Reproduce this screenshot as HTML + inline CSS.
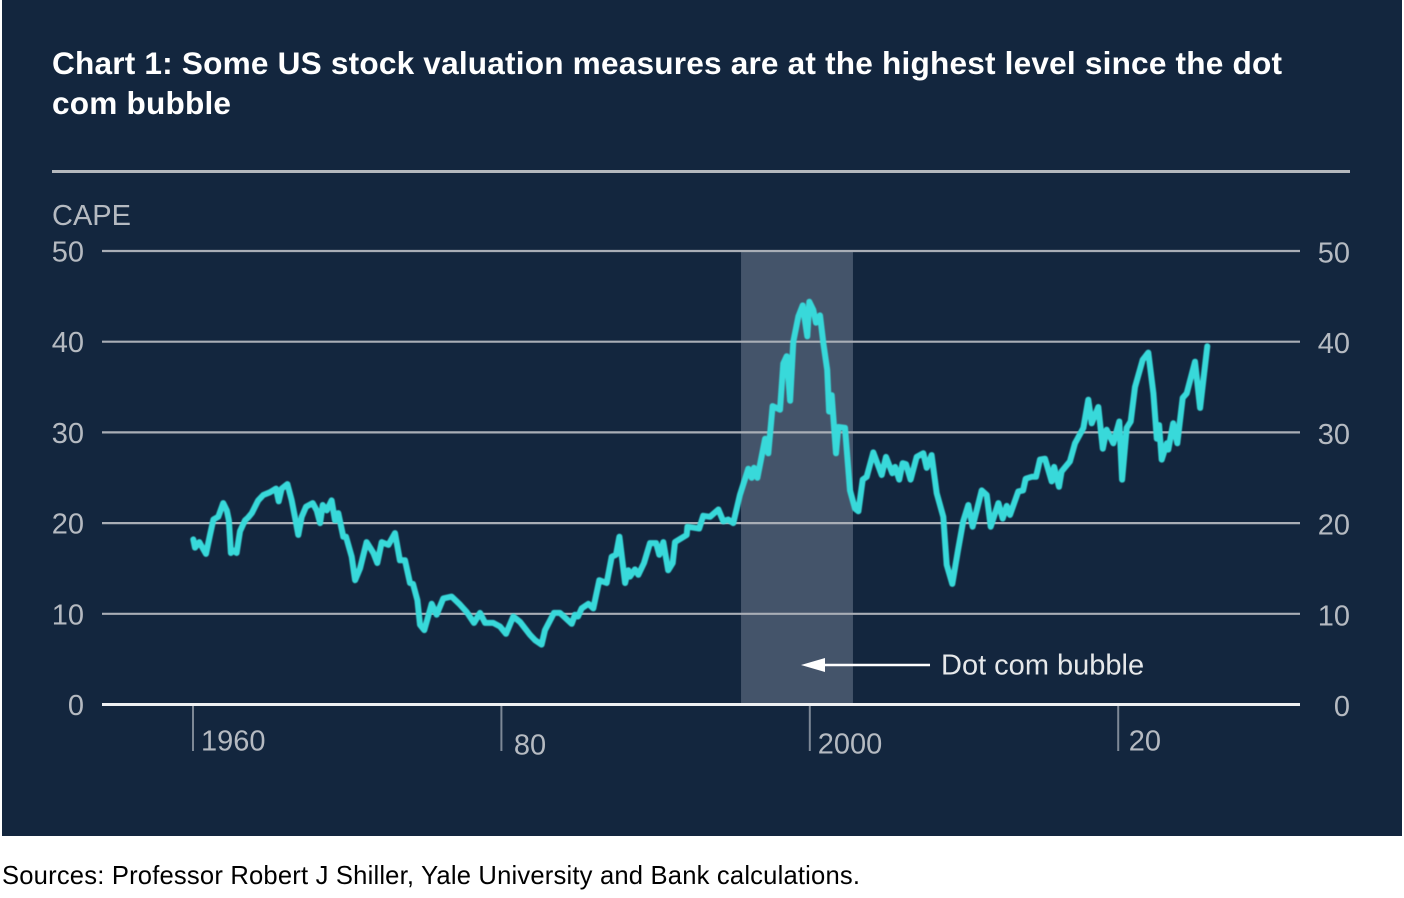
<!DOCTYPE html>
<html lang="en">
<head>
<meta charset="utf-8">
<title>Chart 1: US stock valuation</title>
<style>
  html, body { margin: 0; padding: 0; background: #ffffff; }
  svg { display: block; font-family: "Liberation Sans", Arial, sans-serif; }
</style>
</head>
<body>
<svg id="chart" xmlns="http://www.w3.org/2000/svg" width="1404" height="898" viewBox="0 0 1404 898">
  <defs>
    <filter id="soft" x="-5%" y="-5%" width="110%" height="110%"><feGaussianBlur stdDeviation="0.45"/></filter>
  </defs>
  <rect x="0" y="0" width="1404" height="898" fill="#ffffff"/>
  <rect x="2" y="0" width="1400" height="836" fill="#13263e"/>
  <text x="52" y="74" font-size="31.6" font-weight="700" fill="#ffffff" textLength="1230" lengthAdjust="spacing">Chart 1: Some US stock valuation measures are at the highest level since the dot</text>
  <text x="52" y="114" font-size="31.6" font-weight="700" fill="#ffffff" textLength="179" lengthAdjust="spacing">com bubble</text>
  <line x1="52" x2="1350" y1="171.5" y2="171.5" stroke="#b4b8bd" stroke-width="3"/>
  <text x="52" y="225" font-size="29" fill="#b5bac1">CAPE</text>
  <g id="band-layer"></g>
  <g id="grid-layer"></g>
  <g id="tick-layer"></g>
  <g id="series-layer"></g>
  <g id="annotation-layer"></g>
  <text x="2" y="884" font-size="25.6" fill="#000000" textLength="858" lengthAdjust="spacing">Sources: Professor Robert J Shiller, Yale University and Bank calculations.</text>
</svg>
<script>
const yTicks = [0, 10, 20, 30, 40, 50];
const xTicks = [1960, 1980, 2000, 2020];
const xTickLabels = ["1960", "80", "2000", "20"];
const bandYears = [1995.54, 2002.8];
const annotationLabel = "Dot com bubble";
const annotationYear = 1999.43;
const annotationValue = 4.35;
const years = [
1960.02,1960.13,1960.41,1960.58,1960.84,1961.10,1961.32,1961.64,1961.96,1962.19,1962.33,1962.46,1962.59,1962.83,1963.05,1963.37,1963.57,1963.81,1964.23,1964.56,1964.99,1965.38,1965.56,1965.75,1966.12,1966.40,1966.61,1966.83,1967.05,1967.33,1967.76,1968.02,1968.24,1968.41,1968.67,1968.99,1969.21,1969.42,1969.75,1969.92,
1970.29,1970.51,1970.83,1971.26,1971.52,1971.70,1971.95,1972.24,1972.67,1973.10,1973.42,1973.75,1974.07,1974.27,1974.55,1974.72,1975.00,1975.48,1975.80,1976.23,1976.78,1977.32,1977.75,1978.22,1978.61,1978.94,1979.47,1979.91,
1980.30,1980.77,1981.21,1981.85,1982.18,1982.61,1982.83,1983.41,1983.80,1984.56,1984.77,1984.97,1985.21,1985.64,1985.96,1986.35,1986.83,1987.15,1987.43,1987.65,1988.02,1988.23,1988.34,1988.66,1988.88,1989.25,1989.64,
1990.03,1990.24,1990.50,1990.82,1991.11,1991.26,1992.02,1992.06,1992.83,1993.09,1993.53,1994.07,1994.39,1994.70,1995.04,1995.47,1996.01,1996.23,1996.38,1996.60,1997.10,1997.31,1997.59,1998.07,1998.28,1998.50,1998.72,1998.93,1999.26,1999.54,1999.84,1999.97,
2000.23,2000.40,2000.66,2000.88,2001.13,2001.25,2001.42,2001.70,2001.85,2002.28,2002.61,2002.93,2003.15,2003.43,2003.69,2004.12,2004.66,2004.94,2005.35,2005.53,2005.80,2006.02,2006.24,2006.54,2006.93,2007.36,2007.58,2007.90,2008.23,2008.66,2008.88,2009.24,2009.61,2009.95,
2010.28,2010.56,2011.15,2011.47,2011.73,2012.23,2012.51,2012.77,2012.98,2013.52,2013.83,2014.00,2014.39,2014.67,2014.93,2015.25,2015.69,2015.84,2016.16,2016.33,2016.87,2017.20,2017.74,2018.06,2018.28,2018.71,2019.00,2019.25,2019.68,2019.86,
2020.07,2020.25,2020.55,2020.81,2021.09,2021.59,2021.95,2022.28,2022.50,2022.65,2022.82,2023.15,2023.25,2023.57,2023.83,2024.18,2024.44,2024.98,2025.31,2025.78
];
const capeValues = [
18.2,17.3,17.9,17.4,16.6,18.7,20.4,20.7,22.2,21.4,20.3,16.7,17.0,16.7,19.1,20.3,20.6,21.1,22.5,23.1,23.4,23.8,22.4,23.8,24.3,22.5,20.7,18.7,20.7,21.8,22.2,21.4,20.0,22.0,21.4,22.5,20.3,21.1,18.5,18.5,
16.3,13.7,15.0,17.9,17.2,16.7,15.6,17.9,17.6,18.9,15.9,15.9,13.4,13.3,11.5,8.8,8.2,11.1,9.9,11.7,11.9,11.0,10.2,9.0,10.1,9.0,9.0,8.6,
7.8,9.7,9.1,7.7,7.1,6.6,8.2,10.1,10.1,8.9,9.9,9.7,10.6,11.1,10.6,13.7,13.4,16.3,16.5,18.5,13.4,14.8,14.1,14.9,14.3,15.6,17.8,
17.8,16.5,17.9,14.8,15.6,17.9,18.7,19.6,19.4,20.8,20.7,21.5,20.2,20.4,20.0,23.1,26.0,25.0,26.1,25.0,29.3,27.7,32.9,32.5,37.6,38.4,33.5,40.0,42.8,44.0,40.6,44.4,
43.5,42.1,42.9,39.8,36.9,32.3,34.1,27.7,30.6,30.5,23.6,21.6,21.3,24.8,25.1,27.8,25.3,27.3,25.5,26.2,24.8,26.6,26.5,24.8,27.3,27.7,26.1,27.5,23.3,20.7,15.4,13.3,17.0,20.2,
22.0,19.6,23.6,23.1,19.6,22.2,20.5,21.9,20.9,23.5,23.6,24.9,25.1,25.1,27.0,27.1,24.6,26.2,24.0,25.7,26.8,28.8,30.5,33.6,31.0,32.8,28.2,30.3,28.8,29.9,
31.2,24.8,30.5,31.2,35.0,38.0,38.8,34.3,29.3,30.8,27.0,28.8,28.1,31.0,28.8,33.8,34.3,37.8,32.7,39.5
];

const SVG_NS = "http://www.w3.org/2000/svg";
function xScale(year) { return 193 + (year - 1960) * 15.42; }
function yScale(value) { return 704.5 - value * 9.07; }
function make(tag, attrs, parent) {
  const el = document.createElementNS(SVG_NS, tag);
  for (const key in attrs) el.setAttribute(key, attrs[key]);
  parent.appendChild(el);
  return el;
}

const bandLayer = document.getElementById("band-layer");
const gridLayer = document.getElementById("grid-layer");
const tickLayer = document.getElementById("tick-layer");
const seriesLayer = document.getElementById("series-layer");
const annotationLayer = document.getElementById("annotation-layer");

const band = make("rect", {
  x: xScale(bandYears[0]), y: yScale(50),
  width: xScale(bandYears[1]) - xScale(bandYears[0]),
  height: yScale(0) - yScale(50), fill: "#44546a"
}, bandLayer);



const labelBaselineShift = 10.5;
yTicks.forEach(function (tick) {
  const isZero = tick === 0;
  const grid = make("line", {
    x1: 102, x2: 1300, y1: yScale(tick), y2: yScale(tick),
    stroke: isZero ? "#eef0f2" : "#a9aeb6", "stroke-width": isZero ? 3 : 2.2
  }, gridLayer);
  
  

  const left = make("text", {
    x: 84, y: yScale(tick) + labelBaselineShift, "text-anchor": "end",
    "font-size": 29, fill: "#b5bac1"
  }, tickLayer);
  left.textContent = String(tick);
  
  

  const right = make("text", {
    x: 1350, y: yScale(tick) + labelBaselineShift + 1, "text-anchor": "end",
    "font-size": 29, fill: "#b5bac1"
  }, tickLayer);
  right.textContent = String(tick);
  
  
});

const xLabelNudgeX = [8, 12.5, 8, 10.5];
const xLabelNudgeY = [46, 50, 49, 46];
xTicks.forEach(function (year, i) {
  const tick = make("line", {
    x1: xScale(year), x2: xScale(year), y1: 706, y2: 751,
    stroke: "#7d8896", "stroke-width": 2
  }, tickLayer);
  
  

  const label = make("text", {
    x: xScale(year) + xLabelNudgeX[i], y: yScale(0) + xLabelNudgeY[i],
    "font-size": 29, fill: "#b5bac1"
  }, tickLayer);
  label.textContent = xTickLabels[i];
  
  
});

const linePoints = years.map(function (year, i) {
  return xScale(year).toFixed(1) + "," + yScale(capeValues[i]).toFixed(1);
}).join(" ");
const capeLine = make("polyline", {
  points: linePoints, fill: "none", stroke: "#38d9da", filter: "url(#soft)",
  "stroke-width": 6, "stroke-linejoin": "round", "stroke-linecap": "round"
}, seriesLayer);



const tipX = xScale(annotationYear);
const tipY = yScale(annotationValue);
const arrowShaft = make("line", {
  x1: tipX + 20, x2: tipX + 129, y1: tipY, y2: tipY,
  stroke: "#ffffff", "stroke-width": 2.5
}, annotationLayer);



const arrowHead = make("polygon", {
  points: tipX + "," + tipY + " " + (tipX + 24) + "," + (tipY - 7) + " " + (tipX + 24) + "," + (tipY + 7),
  fill: "#ffffff"
}, annotationLayer);



const annotationText = make("text", {
  x: tipX + 140, y: tipY + 9.5, "font-size": 29, fill: "#e6e8ea"
}, annotationLayer);
annotationText.textContent = annotationLabel;


</script>
</body>
</html>
